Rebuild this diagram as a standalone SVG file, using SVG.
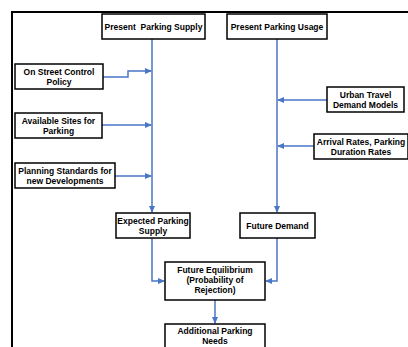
<svg xmlns="http://www.w3.org/2000/svg" width="408" height="347" viewBox="0 0 408 347">
<style>
.box{fill:#fff;stroke:#000;stroke-width:1.5}
.t{font-family:"Liberation Sans",Arial,sans-serif;font-weight:bold;font-size:8.5px;text-anchor:middle;fill:#000}
.c{fill:none;stroke:#4a76c6;stroke-width:1.5}
</style>
<defs>
<marker id="a" markerWidth="8" markerHeight="8" refX="6" refY="4" orient="auto" markerUnits="userSpaceOnUse">
<path d="M0,1 L7,4 L0,7 Z" fill="#4a76c6"/>
</marker>
</defs>
<rect width="408" height="347" fill="#fff"/>
<path d="M12,347 V12 H408" fill="none" stroke="#000" stroke-width="2"/>
<g id="connectors">
<path class="c" d="M152,39 V212" marker-end="url(#a)"/>
<path class="c" d="M277,39 V212" marker-end="url(#a)"/>
<path class="c" d="M103,77 H128 V71 H151" marker-end="url(#a)"/>
<path class="c" d="M102,125 H151" marker-end="url(#a)"/>
<path class="c" d="M115,176 H151" marker-end="url(#a)"/>
<path class="c" d="M327,100 H278" marker-end="url(#a)"/>
<path class="c" d="M314,146 H278" marker-end="url(#a)"/>
<path class="c" d="M152,238 V281 H164" marker-end="url(#a)"/>
<path class="c" d="M277,238 V281 H266" marker-end="url(#a)"/>
<path class="c" d="M215,300 V323" marker-end="url(#a)"/>
</g>
<g id="present-supply"><rect class="box" x="102" y="14" width="103" height="25"/><text class="t" x="153.5" y="29.5" xml:space="preserve">Present  Parking Supply</text></g>
<g id="present-usage"><rect class="box" x="227" y="14" width="100" height="25"/><text class="t" x="277" y="29.5">Present Parking Usage</text></g>
<g id="on-street"><rect class="box" x="15" y="64" width="88" height="25"/><text class="t" x="59" y="74.5">On Street Control</text><text class="t" x="59" y="84.5">Policy</text></g>
<g id="available-sites"><rect class="box" x="15" y="113" width="87" height="25"/><text class="t" x="58.5" y="123.5">Available Sites for</text><text class="t" x="58.5" y="133.5">Parking</text></g>
<g id="planning-standards"><rect class="box" x="15" y="163" width="100" height="25"/><text class="t" x="65" y="173.5">Planning Standards for</text><text class="t" x="65" y="183.5">new Developments</text></g>
<g id="expected-supply"><rect class="box" x="116" y="213" width="74" height="25"/><text class="t" x="153" y="223.5">Expected Parking</text><text class="t" x="153" y="233.5">Supply</text></g>
<g id="urban-travel"><rect class="box" x="327" y="87" width="77" height="25"/><text class="t" x="365.5" y="97.5">Urban Travel</text><text class="t" x="365.5" y="107.5">Demand Models</text></g>
<g id="arrival-rates"><rect class="box" x="314" y="134" width="94" height="25"/><text class="t" x="361" y="144.5">Arrival Rates, Parking</text><text class="t" x="361" y="154.5">Duration Rates</text></g>
<g id="future-demand"><rect class="box" x="240" y="213" width="75" height="25"/><text class="t" x="277.5" y="228.5">Future Demand</text></g>
<g id="future-equilibrium"><rect class="box" x="165" y="262" width="100" height="38"/><text class="t" x="215" y="273">Future Equilibrium</text><text class="t" x="215" y="283">(Probability of</text><text class="t" x="215" y="293">Rejection)</text></g>
<g id="additional-needs"><rect class="box" x="165" y="324" width="100" height="30"/><text class="t" x="215" y="334">Additional Parking</text><text class="t" x="215" y="344">Needs</text></g>
</svg>
